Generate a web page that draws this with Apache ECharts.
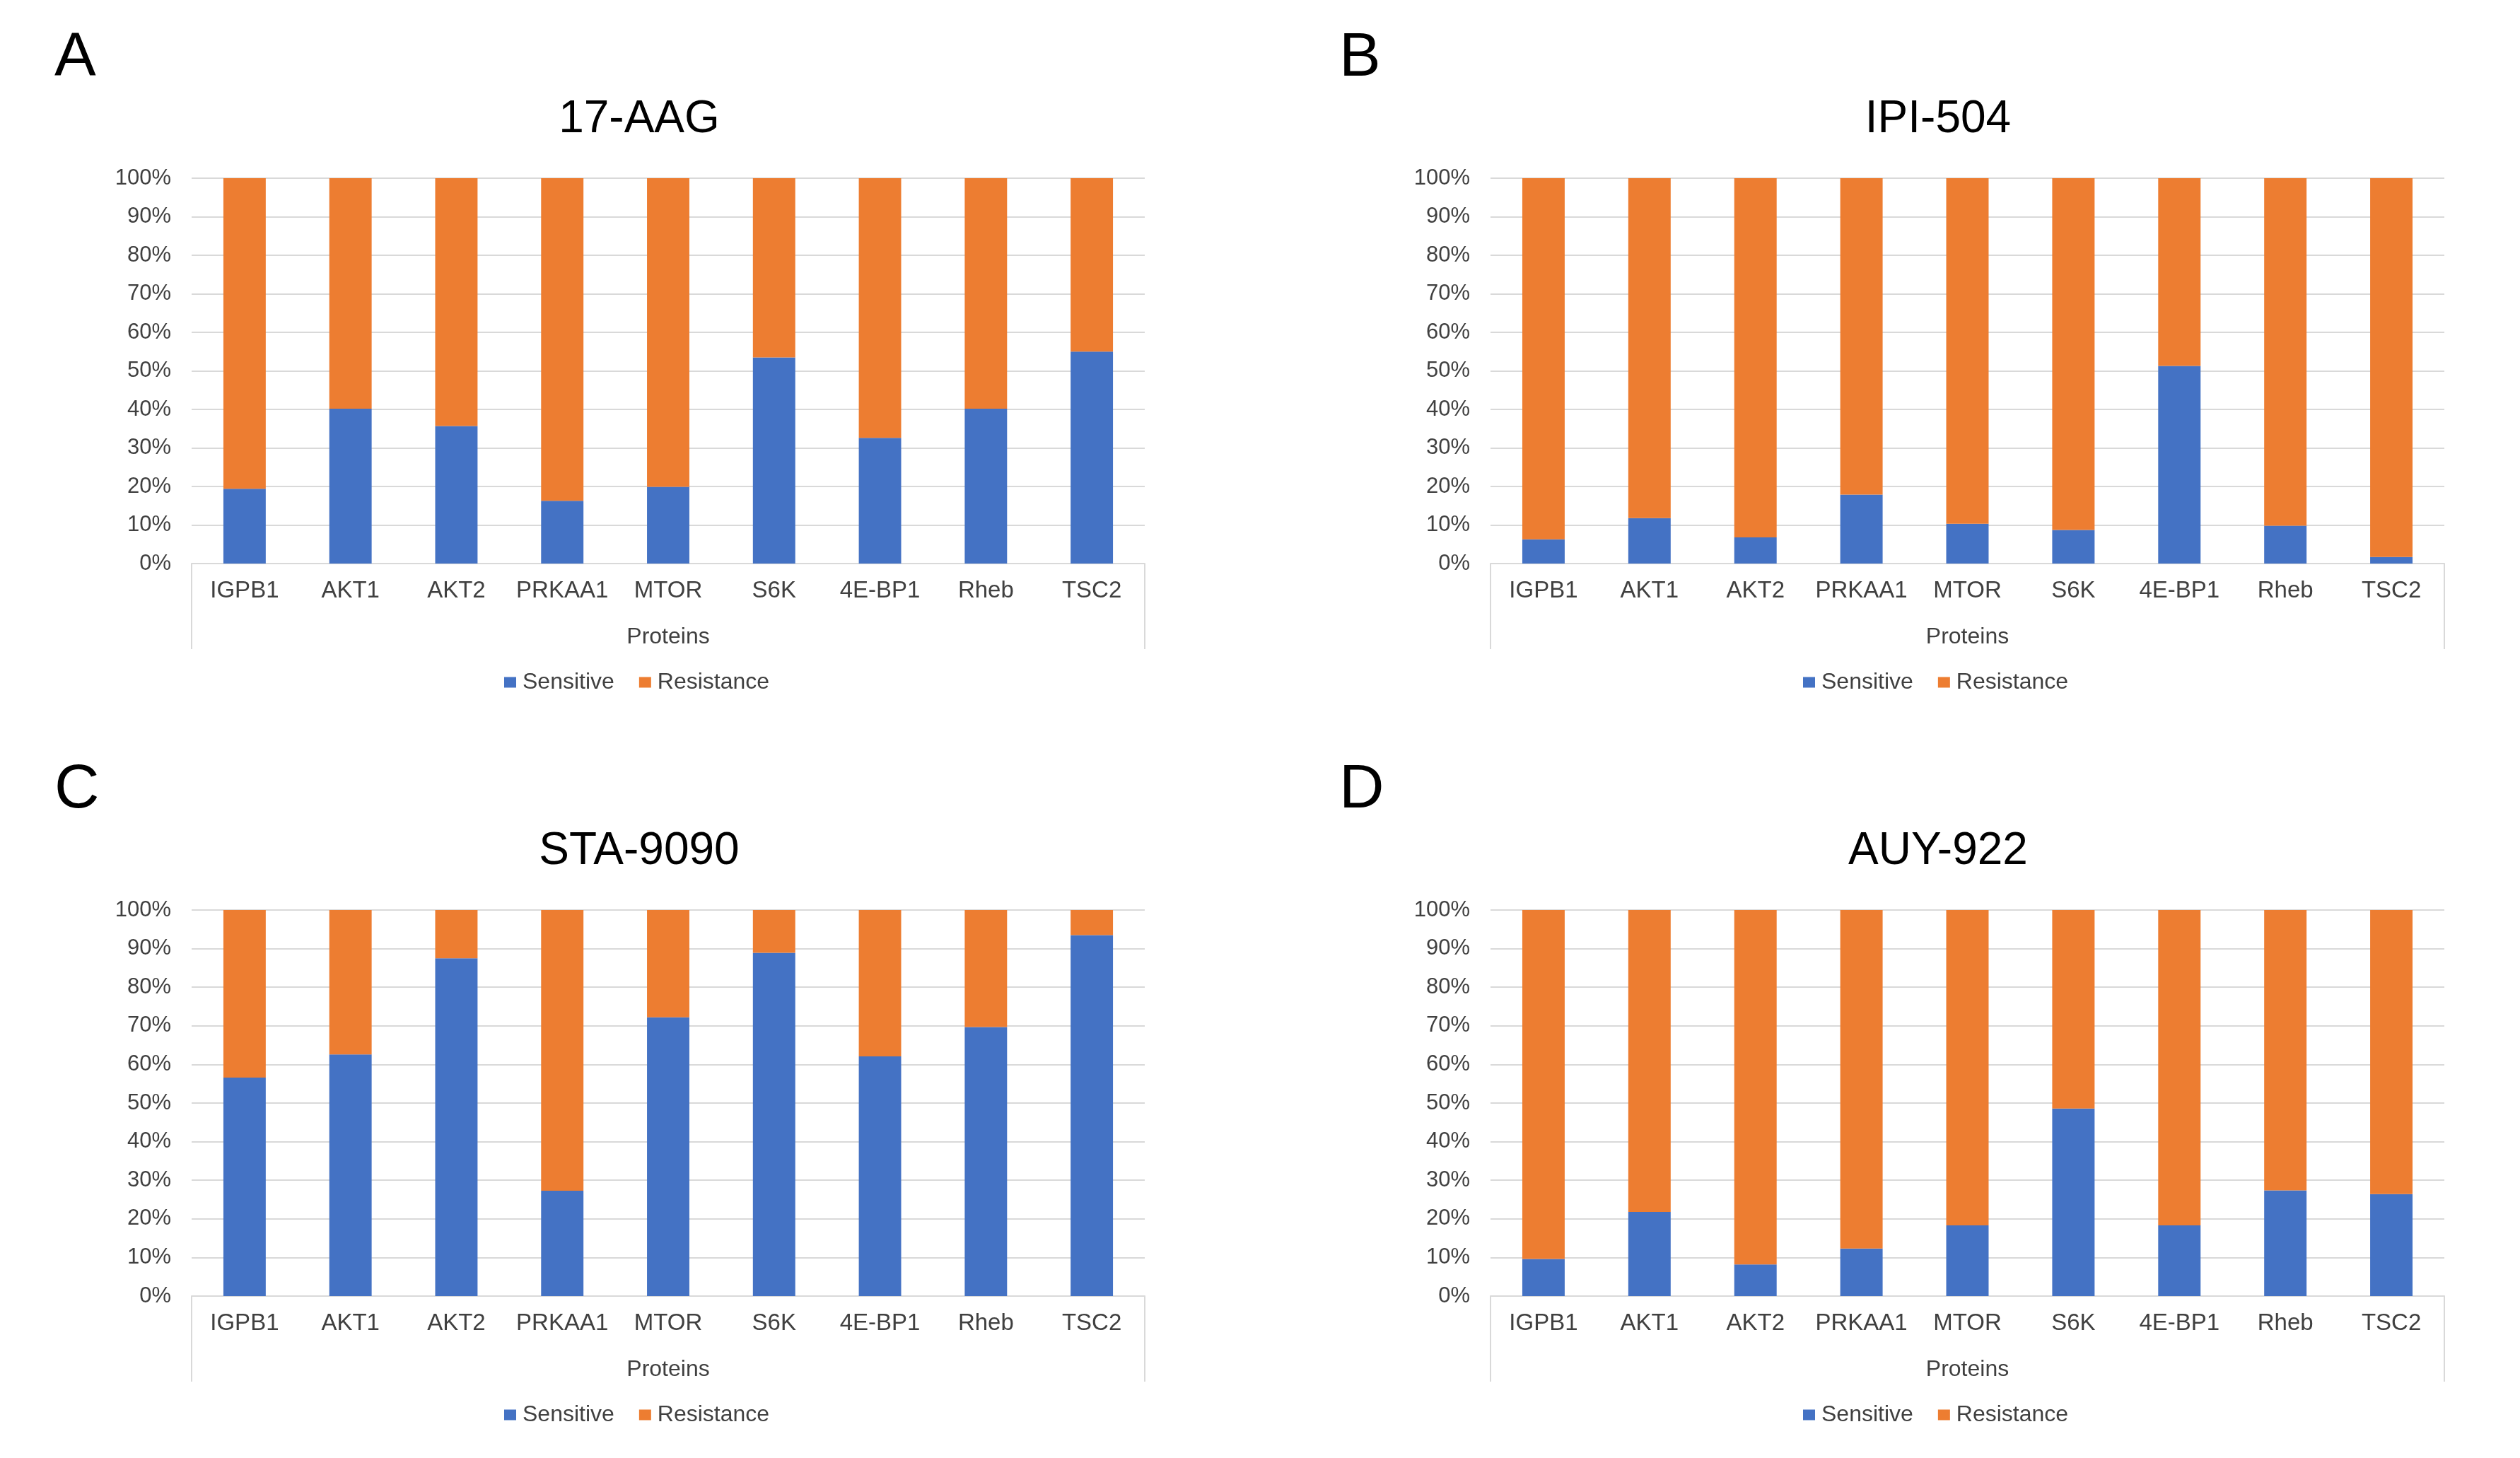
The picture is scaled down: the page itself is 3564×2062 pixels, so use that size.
<!DOCTYPE html>
<html>
<head>
<meta charset="utf-8">
<script src="https://cdn.jsdelivr.net/npm/echarts@6/dist/echarts.min.js"></script>
<style>
html,body{margin:0;padding:0;background:#ffffff;}
#chart{width:3564px;height:2062px;}
</style>
</head>
<body>
<div id="chart"></div>
<script>
// ---------- data ----------
const proteins = ['IGPB1', 'AKT1', 'AKT2', 'PRKAA1', 'MTOR', 'S6K', '4E-BP1', 'Rheb', 'TSC2'];
const drugNames = ['17-AAG', 'IPI-504', 'STA-9090', 'AUY-922'];
const panelLetters = ['A', 'B', 'C', 'D'];
const seriesNames = ['Sensitive', 'Resistance'];
const xAxisTitle = 'Proteins';

const sensitive17AAG = [19.4, 40.2, 35.7, 16.3, 19.9, 53.5, 32.6, 40.2, 55.0];
const resistance17AAG = [80.6, 59.8, 64.3, 83.7, 80.1, 46.5, 67.4, 59.8, 45.0];

const sensitiveIPI504 = [6.3, 11.8, 6.8, 17.9, 10.3, 8.7, 51.3, 9.8, 1.7];
const resistanceIPI504 = [93.7, 88.2, 93.2, 82.1, 89.7, 91.3, 48.7, 90.2, 98.3];

const sensitiveSTA9090 = [56.6, 62.6, 87.5, 27.3, 72.2, 88.9, 62.1, 69.7, 93.5];
const resistanceSTA9090 = [43.4, 37.4, 12.5, 72.7, 27.8, 11.1, 37.9, 30.3, 6.5];

const sensitiveAUY922 = [9.6, 21.8, 8.2, 12.3, 18.3, 48.6, 18.3, 27.4, 26.4];
const resistanceAUY922 = [90.4, 78.2, 91.8, 87.7, 81.7, 51.4, 81.7, 72.6, 73.6];

const yMin = 0, yMax = 100, yStep = 10;

// ---------- layout ----------
const grids = [
  {left: 271, top: 252, width: 1348, height: 545},
  {left: 2108, top: 252, width: 1349, height: 545},
  {left: 271, top: 1287, width: 1348, height: 546},
  {left: 2108, top: 1287, width: 1349, height: 546}
];
const letterPos = [
  {left: 77, top: 39},
  {left: 1894, top: 39},
  {left: 77, top: 1074},
  {left: 1894, top: 1074}
];
const panelData = [
  [sensitive17AAG, resistance17AAG],
  [sensitiveIPI504, resistanceIPI504],
  [sensitiveSTA9090, resistanceSTA9090],
  [sensitiveAUY922, resistanceAUY922]
];
const colors = ['#4472C4', '#ED7D31'];
const FONT = "'Liberation Sans', Arial, sans-serif";
const lineColor = '#d9d9d9';
const labelColor = '#404040';

const option = {
  backgroundColor: '#ffffff',
  animation: false,
  color: colors,
  title: [],
  legend: [],
  grid: [],
  xAxis: [],
  yAxis: [],
  series: [],
  graphic: []
};

grids.forEach((g, i) => {
  option.grid.push({left: g.left, top: g.top, width: g.width, height: g.height, containLabel: false});
  // panel letter
  option.title.push({
    text: panelLetters[i],
    left: letterPos[i].left,
    top: letterPos[i].top,
    padding: 0,
    textStyle: {fontFamily: FONT, fontSize: 88, fontWeight: 'normal', color: '#000000'}
  });
  // chart title
  option.title.push({
    text: drugNames[i],
    left: g.left + 633,
    top: g.top - 115,
    textAlign: 'center',
    padding: 0,
    textStyle: {fontFamily: FONT, fontSize: 64, fontWeight: 'normal', color: '#000000'}
  });
  option.legend.push({
    data: seriesNames,
    left: g.left + 442,
    top: g.top + g.height + 152,
    padding: 0,
    icon: 'rect',
    itemWidth: 17,
    itemHeight: 15,
    itemGap: 35,
    selectedMode: false,
    textStyle: {fontFamily: FONT, fontSize: 32, color: labelColor, padding: [0, 0, 0, 4]}
  });
  option.xAxis.push({
    type: 'category',
    gridIndex: i,
    data: proteins,
    boundaryGap: true,
    name: xAxisTitle,
    nameLocation: 'middle',
    nameGap: 88,
    nameTextStyle: {fontFamily: FONT, fontSize: 32, color: labelColor},
    axisLine: {show: true, lineStyle: {color: lineColor, width: 2}},
    axisTick: {show: false},
    axisLabel: {fontFamily: FONT, fontSize: 33, color: labelColor, margin: 22, interval: 0}
  });
  option.yAxis.push({
    type: 'value',
    gridIndex: i,
    min: yMin,
    max: yMax,
    interval: yStep,
    axisLine: {show: false},
    axisTick: {show: false},
    axisLabel: {fontFamily: FONT, fontSize: 31, color: labelColor, margin: 29, formatter: '{value}%'},
    splitLine: {show: true, lineStyle: {color: lineColor, width: 2}}
  });
  seriesNames.forEach((name, s) => {
    option.series.push({
      name: name,
      type: 'bar',
      stack: 'panel' + i,
      xAxisIndex: i,
      yAxisIndex: i,
      barWidth: '40%',
      itemStyle: {color: colors[s]},
      data: panelData[i][s]
    });
  });
  // side border lines below the category axis
  const yb = g.top + g.height;
  [g.left, g.left + g.width].forEach(x => {
    option.graphic.push({
      type: 'line',
      shape: {x1: x, y1: yb, x2: x, y2: yb + 121},
      style: {stroke: lineColor, lineWidth: 2},
      silent: true
    });
  });
});

const chart = echarts.init(document.getElementById('chart'), null, {renderer: 'canvas'});
chart.setOption(option);
</script>
</body>
</html>
